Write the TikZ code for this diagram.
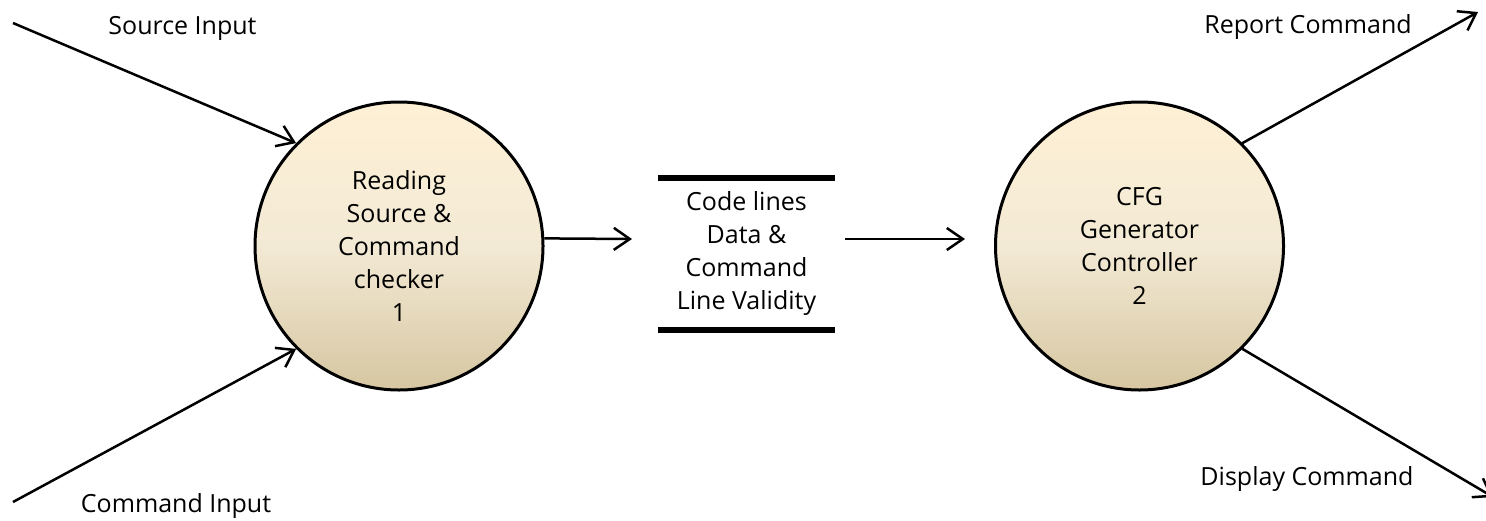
\documentclass[tikz,border=0pt]{standalone}
\usepackage{fontspec}
\setmainfont{Open Sans}
\usetikzlibrary{arrows.meta}
\definecolor{procTop}{HTML}{FEF0D5}
\definecolor{procMid}{HTML}{F3EAD5}
\definecolor{procBot}{HTML}{D6C6A1}
\begin{document}
\begin{tikzpicture}[x=0.5pt,y=-0.5pt,
  every node/.style={font=\fontsize{12.5pt}{16.5pt}\selectfont},
  process/.style={circle, draw, line width=1.5pt, minimum size=144pt, inner sep=0pt,
    top color=procTop, bottom color=procBot, middle color=procMid, align=center},
  datastore/.style={minimum width=88.5pt, minimum height=75.75pt, inner sep=0pt, align=center},
  storebar/.style={line width=3pt},
  flow/.style={line width=1.25pt, -{Straight Barb[length=8pt,width=11pt]}},
  flowlabel/.style={anchor=base}
]
\useasboundingbox (0,0) rectangle (1486,520);

% processes
\node[process] (p1) at (399,246) {Reading\\Source \&\\Command\\checker\\1};
\node[process] (p2) at (1139.5,246) {CFG\\Generator\\Controller\\2};

% data store
\node[datastore] (store) at (746.5,253.75) {Code lines\\Data \&\\Command\\Line Validity};
\draw[storebar] (store.north west) -- (store.north east);
\draw[storebar] (store.south west) -- (store.south east);

% flow end points
\coordinate (srcIn) at (13,23);
\coordinate (cmdIn) at (13,502);
\coordinate (toStore) at (632,239);
\coordinate (fromStore) at (845,239);
\coordinate (toP2) at (965,239);
\coordinate (reportOut) at (1478,12);
\coordinate (displayOut) at (1493,497);

% flows
\draw[flow] (srcIn) -- (p1.135);
\draw[flow] (cmdIn) -- (p1.225);
\draw[flow] (p1.3) -- (toStore);
\draw[flow] (fromStore) -- (toP2);
\draw[flow] (p2.45) -- (reportOut);
\draw[flow] (p2.-45) -- (displayOut);

% flow labels
\node[flowlabel] (lblSrc) at (182.5,34) {Source Input};
\node[flowlabel] (lblCmd) at (176,512) {Command Input};
\node[flowlabel] (lblRep) at (1308,33) {Report Command};
\node[flowlabel] (lblDisp) at (1307,485) {Display Command};
\end{tikzpicture}
\end{document}
